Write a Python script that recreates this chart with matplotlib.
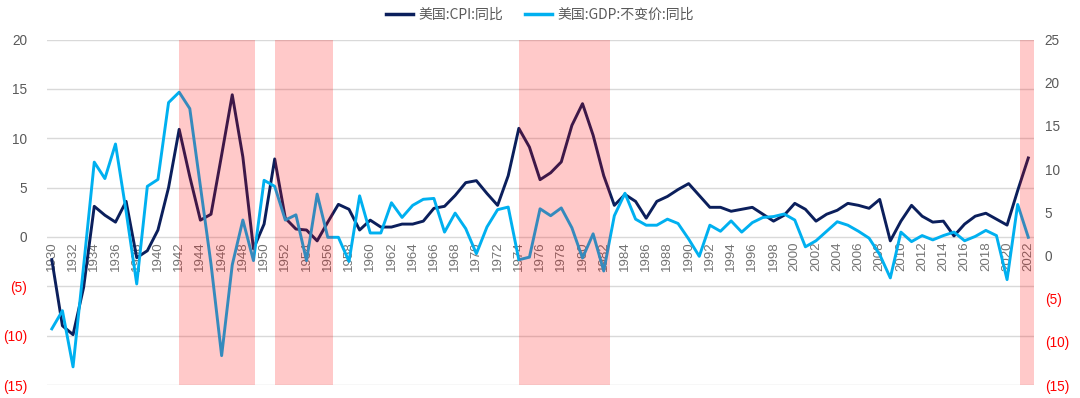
import matplotlib
matplotlib.use("Agg")
import matplotlib.pyplot as plt
from matplotlib.lines import Line2D
import numpy as np

years = list(range(1930, 2023))

cpi = [-2.3, -9.0, -9.9, -5.1, 3.1, 2.2, 1.5, 3.6, -2.1, -1.4,
       0.7, 5.0, 10.9, 6.1, 1.7, 2.3, 8.3, 14.4, 8.1, -1.2,
       1.3, 7.9, 1.9, 0.8, 0.7, -0.4, 1.5, 3.3, 2.8, 0.7,
       1.7, 1.0, 1.0, 1.3, 1.3, 1.6, 2.9, 3.1, 4.2, 5.5,
       5.7, 4.4, 3.2, 6.2, 11.0, 9.1, 5.8, 6.5, 7.6, 11.3,
       13.5, 10.3, 6.2, 3.2, 4.3, 3.6, 1.9, 3.6, 4.1, 4.8,
       5.4, 4.2, 3.0, 3.0, 2.6, 2.8, 3.0, 2.3, 1.6, 2.2,
       3.4, 2.8, 1.6, 2.3, 2.7, 3.4, 3.2, 2.9, 3.8, -0.4,
       1.6, 3.2, 2.1, 1.5, 1.6, 0.1, 1.3, 2.1, 2.4, 1.8,
       1.2, 4.7, 8.0]

gdp = [-8.5, -6.4, -12.9, -1.2, 10.8, 8.9, 12.9, 5.1, -3.3, 8.0,
       8.8, 17.7, 18.9, 17.0, 8.0, -1.0, -11.6, -1.1, 4.1, -0.6,
       8.7, 8.0, 4.1, 4.7, -0.6, 7.1, 2.1, 2.1, -0.7, 6.9,
       2.6, 2.6, 6.1, 4.4, 5.8, 6.5, 6.6, 2.7, 4.9, 3.1,
       0.2, 3.3, 5.3, 5.6, -0.5, -0.2, 5.4, 4.6, 5.5, 3.2,
       -0.3, 2.5, -1.8, 4.6, 7.2, 4.2, 3.5, 3.5, 4.2, 3.7,
       1.9, -0.1, 3.5, 2.8, 4.0, 2.7, 3.8, 4.4, 4.5, 4.8,
       4.1, 1.0, 1.7, 2.8, 3.9, 3.5, 2.8, 2.0, 0.1, -2.6,
       2.7, 1.6, 2.3, 1.8, 2.3, 2.7, 1.7, 2.2, 2.9, 2.3,
       -2.8, 5.9, 2.1]

# shaded periods (start year, end year)
spans = [(1942.0, 1949.1), (1951.0, 1956.5), (1974.0, 1982.6), (2021.2, 2022.5)]

navy = "#0B1F5C"
blue = "#00B0F0"
grey = "#595959"

plt.rcParams["font.family"] = ["Liberation Sans", "DejaVu Sans"]

fig = plt.figure(figsize=(10.8, 3.98), dpi=100)
ax = fig.add_axes([46.5 / 1080, 13 / 398, (1033.6 - 46.5) / 1080, (385 - 39.5) / 398])
ax2 = ax.twinx()

# x labels sit on the zero line
ax.spines["bottom"].set_position(("data", 0))

ax.plot(years, cpi, color=navy, lw=2.1, zorder=2)
ax2.plot(years, gdp, color=blue, lw=2.1, zorder=2)
for a, b in spans:
    ax2.axvspan(a, b, color="#FF0000", alpha=0.21, lw=0, zorder=3)

ax.set_xlim(1929.5, 2022.5)
ax.set_ylim(-15, 20)
ax2.set_ylim(-15, 25)

ax.set_yticks(np.arange(-15, 21, 5))
ax2.set_yticks(np.arange(-15, 26, 5))


def fmt(v):
    return "(%d)" % abs(v) if v < 0 else "%d" % v


ax.set_yticklabels([fmt(v) for v in ax.get_yticks()])
ax2.set_yticklabels([fmt(v) for v in ax2.get_yticks()])
for axis in (ax, ax2):
    for v, lab in zip(axis.get_yticks(), axis.get_yticklabels()):
        lab.set_color("#FF0000" if v < 0 else grey)
        lab.set_fontsize(9.8)
ax.tick_params(axis="y", length=0, pad=14)
ax2.tick_params(axis="y", length=0, pad=8)

ax.yaxis.grid(True, color="#D9D9D9", lw=1)
ax.set_axisbelow(True)

ax.set_xticks(years[::2])
ax.set_xticklabels([str(y) for y in years[::2]], rotation=90, fontsize=9.5, color="#737373",
                   va="top")
ax.tick_params(axis="x", length=0, pad=3)

for axis in (ax, ax2):
    for s in axis.spines.values():
        s.set_color("none")

handles = [Line2D([], [], color=navy, lw=2.5), Line2D([], [], color=blue, lw=2.5)]
leg = fig.legend(handles, ["美国:CPI:同比", "美国:GDP:不变价:同比"], loc="center",
                 bbox_to_anchor=(0.5, 0.962), ncol=2, frameon=False, handlelength=1.9,
                 columnspacing=1.6, handletextpad=0.4,
                 prop={"family": ["Noto Sans CJK SC", "DejaVu Sans"], "size": 10})
for t in leg.get_texts():
    t.set_color(grey)

fig.savefig("out.png", dpi=100)
